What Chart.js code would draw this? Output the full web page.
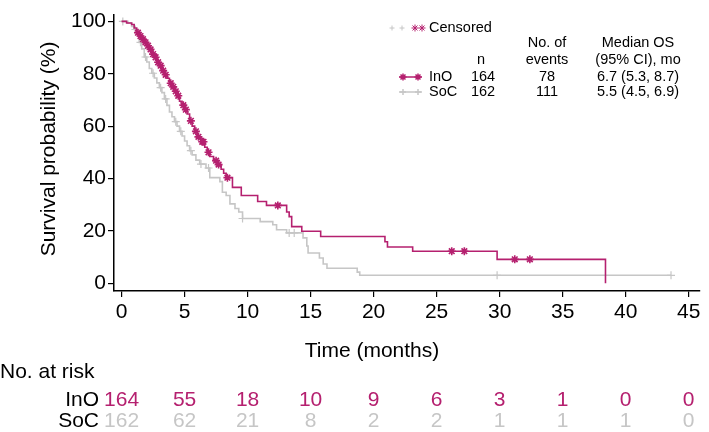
<!DOCTYPE html>
<html>
<head>
<meta charset="utf-8">
<script src="https://cdn.jsdelivr.net/npm/chart.js@4.4.1/dist/chart.umd.min.js"></script>
<style>
  html, body { margin: 0; padding: 0; background: #fff; }
  #wrap { width: 709px; height: 432px; position: relative; }
</style>
</head>
<body>
<div id="wrap"><canvas id="km"></canvas></div>
<script>
// Kaplan-Meier overall survival, InO vs SoC

const inoTimes = [0, 0.4, 0.8, 1.0, 1.2, 1.4, 1.6, 1.8, 2.0, 2.2, 2.4, 2.6, 2.8, 3.0, 3.2, 3.4, 3.6, 3.8, 4.0, 4.2,
    4.4, 4.6, 4.8, 5.0, 5.2, 5.4, 5.6, 5.8, 6.0, 6.3, 6.6, 6.8, 7.0, 7.3, 7.6, 7.9, 8.1, 8.3, 8.8, 9.5,
    10.8, 11.5, 13.1, 13.3, 13.5, 14.3, 15.8, 20.9, 21.1, 23.1, 29.8, 38.4];
const inoSurv = [100, 99.4, 98.8, 97.5, 95.7, 94.4, 93.2, 92.0, 90.7, 89.3, 87.5, 86.3, 84.4, 83.1, 81.2, 79.6, 78.3, 76.4, 75.0, 73.3,
    71.6, 69.5, 68.0, 66.3, 64.6, 62.0, 60.0, 58.0, 55.9, 54.0, 51.9, 50.0, 48.4, 46.8, 45.3, 43.5, 42.0, 40.3, 36.6, 33.5,
    31.2, 29.7, 27.2, 25.4, 21.6, 19.8, 17.8, 15.8, 13.8, 12.2, 9.1, 0];

const socTimes = [0, 0.5, 0.8, 1.0, 1.2, 1.4, 1.6, 1.8, 2.0, 2.2, 2.4, 2.6, 2.8, 3.0, 3.2, 3.4, 3.6, 3.8, 4.0, 4.2,
    4.4, 4.6, 4.8, 5.0, 5.2, 5.4, 5.6, 5.9, 6.2, 6.7, 7.0, 7.8, 8.0, 8.3, 8.6, 9.0, 9.3, 9.6, 11.0, 12.0,
    12.3, 13.1, 14.4, 14.7, 14.8, 15.7, 16.0, 16.3, 18.7, 18.9, 43.6];
const socSurv = [100, 99.4, 98.1, 96.9, 95.1, 92.0, 89.5, 86.4, 84.5, 82.0, 80.2, 78.4, 76.5, 74.7, 72.8, 70.4, 67.9, 65.4, 63.6, 61.7,
    60.0, 58.0, 56.2, 54.3, 52.5, 50.6, 49.0, 47.0, 45.5, 44.0, 40.3, 38.8, 34.7, 33.5, 30.3, 28.5, 27.2, 24.7, 23.5, 22.3,
    20.4, 19.2, 17.3, 14.2, 11.5, 9.6, 7.3, 5.7, 4.2, 3.0, 3.0];

const inoCensorTimes = [1.3, 1.5, 1.7, 1.9, 2.1, 2.3, 2.5, 2.7, 2.9, 3.1, 3.3, 3.5, 3.9, 4.1, 4.3, 4.5, 4.9, 5.1, 5.5,
    5.9, 6.1, 6.4, 6.5, 6.9, 7.5, 7.7, 8.4, 12.4, 26.2, 27.2, 31.2, 32.4];
const socCensorTimes = [0.1, 1.1, 1.5, 1.9, 2.5, 3.1, 3.5, 4.3, 4.7, 5.5, 6.3, 6.9, 9.6, 13.3, 13.7, 29.8, 43.6];

const xTicks = [0, 5, 10, 15, 20, 25, 30, 35, 40, 45];
const yTicks = [0, 20, 40, 60, 80, 100];

const groups = ['InO', 'SoC'];
const nPatients = [164, 162];
const nEvents = [78, 111];
const medianOS = ['6.7 (5.3, 8.7)', '5.5 (4.5, 6.9)'];
const inoAtRisk = [164, 55, 18, 10, 9, 6, 3, 1, 0, 0];
const socAtRisk = [162, 62, 21, 8, 2, 2, 1, 1, 1, 0];

const MAGENTA = '#b5206f';
const GREY = '#c6c6c6';
const FONT = '"Liberation Sans", Arial, sans-serif';

function survAt(times, surv, t) {
    let s = surv[0];
    for (let i = 0; i < times.length; i++) {
        if (times[i] <= t) s = surv[i];
    }
    return s;
}

function toPoints(times, surv) {
    return times.map((t, i) => ({ x: t, y: surv[i] }));
}

function censorPoints(cTimes, times, surv) {
    return cTimes.map(t => ({ x: t, y: survAt(times, surv, t) }));
}

const tableAndLabels = {
    id: 'tableAndLabels',
    afterDraw(chart) {
        const ctx = chart.ctx;
        const xs = chart.scales.x;
        const drawPoint = Chart.helpers.drawPoint;
        ctx.save();

        // axis titles
        ctx.fillStyle = '#000';
        ctx.font = '21px ' + FONT;
        ctx.textAlign = 'center';
        ctx.textBaseline = 'middle';
        ctx.fillText('Time (months)', 372, 351);

        ctx.save();
        ctx.translate(49, 149);
        ctx.rotate(-Math.PI / 2);
        ctx.fillText('Survival probability (%)', 0, 0);
        ctx.restore();

        // number at risk
        ctx.textAlign = 'left';
        ctx.fillText('No. at risk', 0, 372);
        ctx.textAlign = 'right';
        ctx.fillText(groups[0], 99, 400);
        ctx.fillText(groups[1], 99, 421);
        ctx.textAlign = 'center';
        xTicks.forEach((t, i) => {
            const px = xs.getPixelForValue(t);
            ctx.fillStyle = MAGENTA;
            ctx.fillText(String(inoAtRisk[i]), px, 400);
            ctx.fillStyle = GREY;
            ctx.fillText(String(socAtRisk[i]), px, 421);
        });

        // legend / summary table
        ctx.font = '14.5px ' + FONT;
        ctx.fillStyle = GREY; ctx.strokeStyle = GREY;
        drawPoint(ctx, { pointStyle: 'cross', radius: 2.5, borderWidth: 1 }, 392, 28);
        drawPoint(ctx, { pointStyle: 'cross', radius: 2.5, borderWidth: 1 }, 402, 28);
        ctx.fillStyle = MAGENTA; ctx.strokeStyle = MAGENTA;
        drawPoint(ctx, { pointStyle: 'star', radius: 3.5, borderWidth: 1.5 }, 415, 28);
        drawPoint(ctx, { pointStyle: 'star', radius: 3.5, borderWidth: 1.5 }, 422, 28);
        ctx.fillStyle = '#000';
        ctx.textAlign = 'left';
        ctx.fillText('Censored', 429, 28);

        ctx.textAlign = 'center';
        ctx.fillText('No. of', 547, 43);
        ctx.fillText('events', 547, 60);
        ctx.fillText('n', 481, 60);
        ctx.fillText('Median OS', 638, 43);
        ctx.fillText('(95% CI), mo', 638, 60);

        const rowY = [77, 92];
        const colors = [MAGENTA, GREY];
        const styles = ['star', 'cross'];
        rowY.forEach((y, i) => {
            ctx.strokeStyle = colors[i];
            ctx.fillStyle = colors[i];
            ctx.lineWidth = 1.5;
            ctx.beginPath();
            ctx.moveTo(399, y);
            ctx.lineTo(422, y);
            ctx.stroke();
            drawPoint(ctx, { pointStyle: styles[i], radius: i === 0 ? 3.5 : 3, borderWidth: i === 0 ? 1.5 : 1 }, 403, y);
            drawPoint(ctx, { pointStyle: styles[i], radius: i === 0 ? 3.5 : 3, borderWidth: i === 0 ? 1.5 : 1 }, 418, y);
            ctx.fillStyle = '#000';
            ctx.textAlign = 'left';
            ctx.fillText(groups[i], 429, y);
            ctx.textAlign = 'center';
            ctx.fillText(String(nPatients[i]), 483, y);
            ctx.fillText(String(nEvents[i]), 547, y);
            ctx.fillText(medianOS[i], 638, y);
        });

        ctx.restore();
    }
};

new Chart(document.getElementById('km'), {
    type: 'line',
    data: {
        datasets: [
            {
                label: 'InO censored',
                data: censorPoints(inoCensorTimes, inoTimes, inoSurv),
                showLine: false,
                pointStyle: 'star',
                pointRadius: 4,
                borderWidth: 1.6,
                borderColor: MAGENTA,
                backgroundColor: MAGENTA
            },
            {
                label: 'InO',
                data: toPoints(inoTimes, inoSurv),
                stepped: 'before',
                borderColor: MAGENTA,
                borderWidth: 1.6,
                pointRadius: 0,
                fill: false
            },
            {
                label: 'SoC censored',
                data: censorPoints(socCensorTimes, socTimes, socSurv),
                showLine: false,
                pointStyle: 'cross',
                pointRadius: 4,
                borderWidth: 1.2,
                borderColor: GREY,
                backgroundColor: GREY
            },
            {
                label: 'SoC',
                data: toPoints(socTimes, socSurv),
                stepped: 'before',
                borderColor: GREY,
                borderWidth: 1.6,
                pointRadius: 0,
                fill: false
            }
        ]
    },
    options: {
        responsive: true,
        maintainAspectRatio: false,
        animation: false,
        layout: { padding: { top: 8, right: 9, left: 0, bottom: 0 } },
        plugins: {
            legend: { display: false },
            tooltip: { enabled: false }
        },
        scales: {
            x: {
                type: 'linear',
                min: -0.6,
                max: 45.9,
                afterBuildTicks: s => { s.ticks = xTicks.map(v => ({ value: v })); },
                afterFit: s => { s.height = 141; },
                grid: { drawOnChartArea: false, tickLength: 6, color: '#000', lineWidth: 1.2 },
                border: { display: true, color: '#000', width: 1.5 },
                ticks: { color: '#000', font: { size: 21, family: FONT }, padding: 3, maxRotation: 0, autoSkip: false }
            },
            y: {
                type: 'linear',
                min: -3,
                max: 102.6,
                afterBuildTicks: s => { s.ticks = yTicks.map(v => ({ value: v })); },
                afterFit: s => { s.width = 114; },
                grid: { drawOnChartArea: false, tickLength: 6, color: '#000', lineWidth: 1.2 },
                border: { display: true, color: '#000', width: 1.5 },
                ticks: { color: '#000', font: { size: 21, family: FONT }, padding: 2 }
            }
        }
    },
    plugins: [tableAndLabels]
});
</script>
</body>
</html>
